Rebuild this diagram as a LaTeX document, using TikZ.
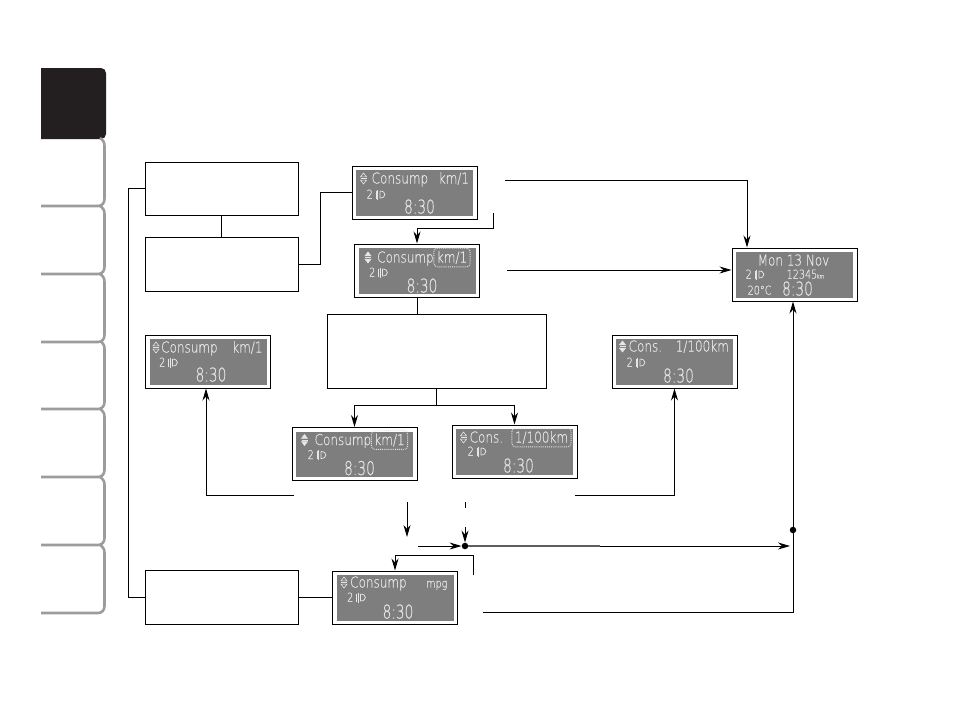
\documentclass[tikz,border=0pt]{standalone}
\usepackage{fontspec}
\usepackage{xcolor}
\usetikzlibrary{arrows.meta}
\newfontfamily\lcdfont[FakeStretch=0.8,FakeBold=0.3]{DejaVu Sans ExtraLight}
\newfontfamily\lcdclock[FakeStretch=0.72,FakeBold=0.3]{DejaVu Sans ExtraLight}
\definecolor{lcdgrey}{HTML}{7E7E7E}
\definecolor{lcdtext}{HTML}{E6E6E6}
\definecolor{tabgrey}{HTML}{9C9C9C}
\definecolor{tabblack}{HTML}{231F20}
\tikzset{
	wire/.style={line width=1pt},
	arrowed/.style={wire,-{Stealth[length=12pt,width=7pt]}},
	panel/.style={draw=black,line width=1pt,fill=white,minimum width=125pt,minimum height=53pt,inner sep=0pt,
		path picture={\fill[lcdgrey] ([shift={(4pt,3.5pt)}]path picture bounding box.south west) rectangle ([shift={(-4pt,-4pt)}]path picture bounding box.north east);}},
	blank/.style={draw=black,line width=0.9pt,fill=white,inner sep=0pt},
	junct/.style={circle,fill=black,inner sep=0pt,minimum size=6.5pt},
	lcd/.style={text=lcdtext,inner sep=0pt,anchor=base west,font=\lcdfont\fontsize{15}{16}\selectfont},
	lcdsmall/.style={lcd,font=\lcdfont\fontsize{12}{14}\selectfont},
	lcdtime/.style={lcd,anchor=base,font=\lcdclock\fontsize{19}{20}\selectfont},
	unitsel/.style={draw=lcdtext,densely dotted,line width=0.9pt,rounded corners=3.5pt,inner xsep=3pt,inner ysep=3pt},
	tab/.style={draw=tabgrey,line width=2.6pt},
	updown/.pic={
		\filldraw[draw=lcdtext,fill=#1,line width=0.6pt] (-3,-1.6)--(0,-5.5)--(3,-1.6)--cycle;
		\filldraw[draw=lcdtext,fill=#1,line width=0.6pt] (-3,1.6)--(0,5.5)--(3,1.6)--cycle;
		\draw[lcdtext,line width=0.6pt] (-3,0)--(3,0);},
	lamp/.pic={
		\draw[lcdtext,line width=0.6pt] (-3.5,-4)--(-3.5,4) (-2,-5)--(-2,5);
		\draw[lcdtext,line width=0.7pt] (0.5,-3.5)--(0.5,3.5) .. controls (7,3.5) and (7,-3.5) .. (0.5,-3.5);}
}
\begin{document}
\begin{tikzpicture}[x=1pt,y=-1pt]
	\useasboundingbox (0,0) rectangle (954,702);
	% side tabs
	\fill[tabblack] (41,139)--(41,68) [rounded corners=5pt] --(106,68)--(106,139) [sharp corners] --cycle;
	\foreach \y in {206,274,342,409,477,545,613}{
		\draw[tab] (41,\y)--(98,\y) .. controls (102,\y) and (104.5,\y-3) .. (104.5,\y-7)--(104.5,\y-60) .. controls (104.5,\y-64) and (103,\y-66) .. (100,\y-68);
	}
	% empty text boxes
	\node[blank,minimum width=153pt,minimum height=53pt] (boxa) at (221.5,188.5) {};
	\node[blank,minimum width=153pt,minimum height=54pt] (boxb) at (221.5,264) {};
	\node[blank,minimum width=219pt,minimum height=74pt] (boxmid) at (436.5,351) {};
	\node[blank,minimum width=153pt,minimum height=54pt] (boxc) at (221.5,597.5) {};
	% displays
	\node[panel] (panelA) at (414.5,192.5) {};
	\node[panel] (panelB) at (417,270.5) {};
	\node[panel] (panelC) at (354.5,454) {};
	\node[panel] (panelD) at (514.5,451.5) {};
	\node[panel] (panelE) at (395,597.5) {};
	\node[panel] (panelF) at (208,361.5) {};
	\node[panel] (panelG) at (674.5,361.5) {};
	\node[panel] (panelMon) at (794.5,274.5) {};
	% second row and clock of each display
	\foreach \p/\hx/\hy/\tx/\ty in {panelA/18/33/68/48,panelB/18/33/68/49,panelC/19/32/68/48,panelD/19/31/67/48,panelE/18/31/66/48,panelF/17/32/66/47,panelG/18/32/67/48,panelMon/17/31/66/48}{
		\node[lcdsmall] (\p-gear) at ([shift={(\hx-3,\hy)}]\p.north west) {2};
		\path ([shift={(\hx+10,\hy-4)}]\p.north west) pic {lamp};
		\node[lcdtime] (\p-time) at ([shift={(\tx,\ty)}]\p.north west) {8:30};
	}
	% top row of each display
	\foreach \p/\c/\sx/\tx/\ty/\ti in {panelA/lcdgrey/12/20/18/Consump,panelB/lcdtext/14/23/19/Consump,panelC/lcdtext/13/23/18/Consump,panelD/lcdgrey/12/18/18/Cons.,panelE/lcdgrey/12/18/17/Consump,panelF/lcdgrey/11/16/18/Consump,panelG/lcdtext/11/17/17/Cons.}{
		\path ([shift={(\sx,\ty-5)}]\p.north west) pic {updown=\c};
		\node[lcd] (\p-title) at ([shift={(\tx,\ty)}]\p.north west) {\ti};
	}
	\node[lcd] (panelA-unit) at ([shift={(87,18)}]panelA.north west) {km/1};
	\node[lcd] (panelF-unit) at ([shift={(87,18)}]panelF.north west) {km/1};
	\node[lcd] (panelG-unit) at ([shift={(64,17)}]panelG.north west) {1/100km};
	\node[lcdsmall] (panelE-unit) at ([shift={(94,17)}]panelE.north west) {mpg};
	\node[lcd,unitsel,anchor=base] (panelB-unit) at ([shift={(98,19)}]panelB.north west) {km/1};
	\node[lcd,unitsel,anchor=base] (panelC-unit) at ([shift={(98,18)}]panelC.north west) {km/1};
	\node[lcd,unitsel,anchor=base] (panelD-unit) at ([shift={(90,18)}]panelD.north west) {1/100km};
	% date screen
	\node[lcd,anchor=base] (mon-date) at ([shift={(62,18)}]panelMon.north west) {Mon 13 Nov};
	\node[lcdsmall] (mon-odo) at ([shift={(55,31)}]panelMon.north west) {12345};
	\node[lcd,font=\lcdfont\fontsize{6}{7}\selectfont] (mon-km) at ([shift={(85,31)}]panelMon.north west) {km};
	\node[lcdsmall] (mon-temp) at ([shift={(16,47)}]panelMon.north west) {20°C};
	% free ends of the connectors
	\coordinate (outA) at (505,180);
	\coordinate (outB) at (493,213);
	\coordinate (outC) at (507,270);
	\coordinate (outL) at (294,495);
	\coordinate (outR) at (575,495);
	\coordinate (outD) at (407,502);
	\coordinate (endD) at (407,537);
	\coordinate (tickU) at (465,502);
	\coordinate (tickL) at (465,508);
	\coordinate (inU) at (465,527);
	\coordinate (inL) at (418,546);
	\coordinate (outE) at (473,575);
	\coordinate (outM) at (483,612);
	\coordinate (endH) at (790,546);
	\coordinate (midH) at (600,546);
	\node[junct] (merge) at (465,546) {};
	\node[junct] (branch) at (793,530) {};
	% connectors
	\draw[wire] (boxa)--(boxb);
	\draw[wire] (boxb.east)--(320,264) |- (panelA.west);
	\draw[wire] (boxa.west)--++(-16,0) |- (boxc.west);
	\draw[wire] (boxc.east)--(panelE.west);
	\draw[arrowed] (outA) -| ([xshift=-47.5]panelMon.north);
	\draw[arrowed] (outB)--++(0,15) -| (panelB.north);
	\draw[arrowed] (outC)--(outC -| panelMon.west);
	\draw[wire] (panelB.south)--(panelB.south |- boxmid.north);
	\draw[wire] (boxmid.south)--++(0,17) coordinate (split);
	\draw[arrowed] (split) -| (panelC.north);
	\draw[arrowed] (split) -| (panelD.north);
	\draw[arrowed] (outL) -| ([xshift=-2]panelF.south);
	\draw[arrowed] (outR) -| (panelG.south);
	\draw[arrowed] (outD)--(endD);
	\draw[wire] (tickU)--(tickL);
	\draw[arrowed] (inU)--(merge);
	\draw[arrowed] (inL)--(merge);
	\draw[arrowed] (merge)--(endH);
	\draw[wire,draw=tabgrey!60!black,line width=1.1pt] (merge)--(midH);
	\draw[arrowed] (outE)--++(0,-20) -| (panelE.north);
	\draw[arrowed] (outM) -| ([xshift=-1.5]panelMon.south);
\end{tikzpicture}
\end{document}
